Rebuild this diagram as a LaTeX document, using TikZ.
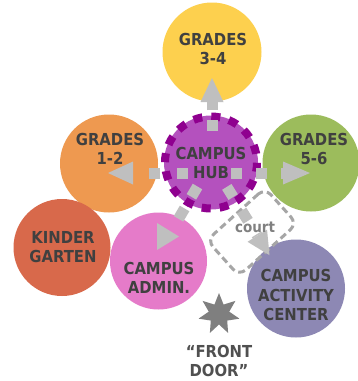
\documentclass[tikz,border=0pt]{standalone}
\usepackage{fontspec}
\setmainfont{DejaVu Sans Condensed}
\usetikzlibrary{shapes.geometric,calc}
\definecolor{cYellow}{HTML}{FDD04E}
\definecolor{cOrange}{HTML}{EE9950}
\definecolor{cGreen}{HTML}{9CBC5C}
\definecolor{cKinder}{HTML}{D8694B}
\definecolor{cAdmin}{HTML}{E57BC9}
\definecolor{cActivity}{HTML}{8D88B4}
\definecolor{cHub}{HTML}{B451BE}
\definecolor{cHubRing}{HTML}{8F008F}
\definecolor{cText}{HTML}{404040}
\definecolor{cDoor}{HTML}{505050}
\definecolor{cArrow}{HTML}{BFBFBF}
\definecolor{cCourt}{HTML}{A6A6A6}
\definecolor{cCourtText}{HTML}{808080}
\definecolor{cStar}{HTML}{7F7F7F}
\begin{document}
\begin{tikzpicture}[x=1pt,y=-1pt,
  disc/.style={circle, inner sep=0pt, outer sep=0pt, minimum size=#1},
  lbl/.style={text=cText, font=\fontsize{16.5pt}{19.5pt}\selectfont\bfseries, align=center, inner sep=0pt},
  gline/.style={draw=cArrow, line width=11pt},
  ghead/.style={fill=cArrow},
]
\path[use as bounding box, fill=white] (0,0) rectangle (357,381);

% discs
\node[disc=99pt, fill=cYellow] (g34) at (212,52) {};
\node[disc=98pt, fill=cOrange] (g12) at (109,163.5) {};
\node[disc=97pt, fill=cGreen] (g56) at (311,163) {};
\node[disc=97pt, fill=cKinder] (kg) at (62,247.5) {};
\node[disc=97pt, fill=cAdmin] (adm) at (158.5,261) {};
\node[disc=98pt, fill=cActivity] (act) at (296,288.5) {};
\node[disc=94pt, fill=cHub] (hub) at (211,162.5) {};
\node[disc=92pt, draw=cHubRing, line width=8pt, dash pattern=on 9pt off 9.06pt, dash phase=9.31pt] (ring) at (hub) {};

% court box
\node[draw=cCourt, line width=3pt, dash pattern=on 7pt off 4pt, rounded corners=9pt,
      minimum width=78pt, minimum height=48pt, rotate=42, inner sep=0pt] (court) at (252,232) {};

% arrows
\coordinate (uS) at (212,131); \coordinate (uB) at (212,102); \coordinate (uT) at (212,78);
\draw[gline, dash pattern=on 11pt off 10pt] (uS) -- (uB);
\fill[ghead] (uT) -- ($(uB)+(11.5,0)$) -- ($(uB)+(-11.5,0)$) -- cycle;

\coordinate (lS) at (188,173); \coordinate (lB) at (133,173); \coordinate (lT) at (108,173);
\draw[gline, dash pattern=on 11pt off 17pt] (lS) -- (lB);
\fill[ghead] (lT) -- ($(lB)+(0,-11.5)$) -- ($(lB)+(0,11.5)$) -- cycle;

\coordinate (rS) at (231,173); \coordinate (rB) at (283,173); \coordinate (rT) at (310,173);
\draw[gline, dash pattern=on 11pt off 14pt] (rS) -- (rB);
\fill[ghead] (rT) -- ($(rB)+(0,-11.5)$) -- ($(rB)+(0,11.5)$) -- cycle;

\coordinate (dlS) at (197.5,186.5); \coordinate (dlE) at (177.7,220.2); \coordinate (dlT) at (179,236.5);
\draw[gline, dash pattern=on 12pt off 13.5pt] (dlS) -- (dlE);
\fill[ghead] (dlT) -- ++(-22,-13.5) -- ++(0,27) -- cycle;

\coordinate (drS) at (226.8,186.9); \coordinate (drB) at (257.3,235.7); \coordinate (drT) at (269.5,255.2);
\draw[gline, dash pattern=on 12pt off 16pt] (drS) -- (drB);
\fill[ghead] (drT) -- (267.05,229.6) -- (247.55,241.8) -- cycle;

% front door star
\node[star, star points=7, star point ratio=2, fill=cStar, minimum size=42pt, inner sep=0pt] (door) at (219,314) {};

% labels
\node[text=cCourtText, font=\fontsize{15pt}{17pt}\selectfont\bfseries, inner sep=0pt] (courtlbl) at (255,227) {court};
\node[lbl] (t34) at (213,49) {GRADES\\3-4};
\node[lbl] (t12) at (110,149) {GRADES\\1-2};
\node[lbl] (t56) at (314,149) {GRADES\\5-6};
\node[lbl] (thub) at (211,163) {CAMPUS\\HUB};
\node[lbl] (tkg) at (63,247) {KINDER\\GARTEN};
\node[lbl] (tadm) at (159,278) {CAMPUS\\ADMIN.};
\node[lbl] (tact) at (296,295) {CAMPUS\\ACTIVITY\\CENTER};
\node[lbl, text=cDoor, font=\fontsize{16.5pt}{18.5pt}\selectfont\bfseries] (tdoor) at (219,361) {“FRONT\\DOOR”};
\end{tikzpicture}
\end{document}
